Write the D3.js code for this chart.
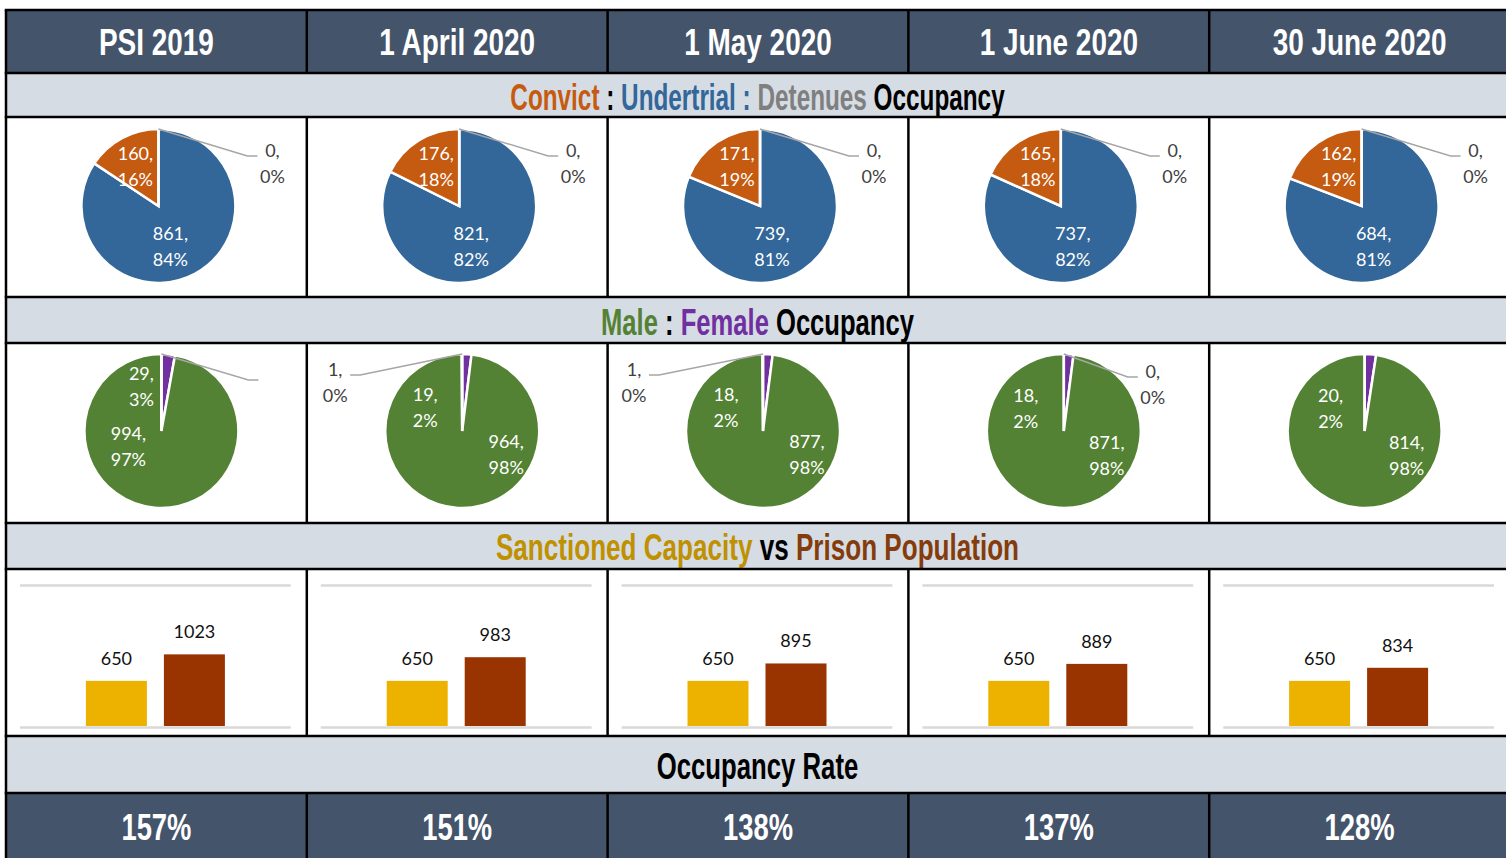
<!DOCTYPE html>
<html>
<head>
<meta charset="utf-8">
<script src="https://cdn.jsdelivr.net/npm/d3@7"></script>
<style>
  body { margin: 0; background: #fff; }
  svg { display: block; }
  text { white-space: pre; }
</style>
</head>
<body>
<svg id="chart" width="1506" height="858"></svg>
<script>
// ---- data -------------------------------------------------------------
const periods = ["PSI 2019", "1 April 2020", "1 May 2020", "1 June 2020", "30 June 2020"];

// Convict : Undertrial : Detenues
const convicts    = [160, 176, 171, 165, 162];
const undertrials = [861, 821, 739, 737, 684];
const detenues    = [0, 0, 0, 0, 0];

// Male : Female (plus other, where reported)
const females = [29, 19, 18, 18, 20];
const males   = [994, 964, 877, 871, 814];
const others  = [0, 1, 1, 0, null];

// Sanctioned capacity vs prison population
const capacity   = [650, 650, 650, 650, 650];
const population = [1023, 983, 895, 889, 834];
const barSeries  = ["Sanctioned Capacity", "Prison Population"];
const barTicks   = [0, 2000];

// ---- styling / layout ---------------------------------------------------
const C = {
  dark: "#44546A", light: "#D6DCE4", border: "#000",
  convict: "#C55A11", undertrial: "#336699", detenue: "#7F7F7F",
  male: "#548235", female: "#7030A0", other: "#A5A5A5",
  capacity: "#EDB200", population: "#993300",
  capTitle: "#BF9000", popTitle: "#843C0C",
  leader: "#A6A6A6", outLabel: "#404040", grid: "#D9D9D9"
};
const HEAD_FONT = "'Liberation Sans', Arial, sans-serif";
const LABEL_FONT = "Lato, 'Open Sans', sans-serif";

const svg = d3.select("#chart");
const X0 = 6, X1 = 1510;
const col = d3.scaleLinear().domain([0, periods.length]).range([X0, X1]);
const colMid = i => (col(i) + col(i + 1)) / 2;
const midX = (X0 + X1) / 2 - 0.5;

const rows = {
  header:    [10, 73],
  convTitle: [73, 117],
  convPies:  [117, 297],
  sexTitle:  [297, 343],
  sexPies:   [343, 523],
  capTitle:  [523, 569],
  capBars:   [569, 736],
  rateTitle: [736, 793],
  rate:      [793, 862]
};

// backgrounds
const fills = {
  header: C.dark, convTitle: C.light, convPies: "#fff", sexTitle: C.light,
  sexPies: "#fff", capTitle: C.light, capBars: "#fff", rateTitle: C.light, rate: C.dark
};
Object.entries(rows).forEach(([k, [y0, y1]]) => {
  svg.append("rect").attr("x", X0).attr("y", y0).attr("width", X1 - X0).attr("height", y1 - y0)
    .attr("fill", fills[k]);
});

// ---- helper: condensed bold heading text -------------------------------
function headText(x, baseline, parts, size, sx) {
  const t = svg.append("text")
    .attr("transform", `translate(${x},${baseline}) scale(${sx},1)`)
    .attr("text-anchor", "middle")
    .attr("font-family", HEAD_FONT)
    .attr("font-weight", "bold")
    .attr("font-size", size);
  parts.forEach(([s, c]) => t.append("tspan").attr("fill", c).text(s));
  return t;
}

// two-line data label centred on (x, y)
function dataLabel(g, x, y, lines, color) {
  const t = g.append("text")
    .attr("text-anchor", "middle")
    .attr("font-family", LABEL_FONT)
    .attr("font-size", 18)
    .attr("fill", color);
  lines.forEach((s, k) => {
    t.append("tspan").attr("x", x).attr("y", y + (k - (lines.length - 1) / 2) * 26 + 6.5).text(s);
  });
}

const pct = d3.format(".0%");

// ---- header row --------------------------------------------------------
periods.forEach((p, i) => {
  headText(colMid(i), rows.header[0] + 45, [[p, "#fff"]], 37, 0.755);
});

// ---- section titles ----------------------------------------------------
headText(midX, rows.convTitle[0] + 37, [
  ["Convict", C.convict], [" : ", "#000"], ["Undertrial :", C.undertrial],
  [" Detenues", C.detenue], [" Occupancy", "#000"]
], 37, 0.657);
headText(midX, rows.sexTitle[0] + 38, [
  ["Male", C.male], [" : ", "#000"], ["Female", C.female], [" Occupancy", "#000"]
], 37, 0.692);
headText(midX, rows.capTitle[0] + 37, [
  ["Sanctioned Capacity", C.capTitle], [" vs ", "#000"], ["Prison Population", C.popTitle]
], 37, 0.705);
headText(midX, rows.rateTitle[0] + 43, [["Occupancy Rate", "#000"]], 37, 0.695);

// ---- pies --------------------------------------------------------------
const R = 77;
const pie = d3.pie().sort(null).value(d => d.value || 0);
const arc = d3.arc().innerRadius(0).outerRadius(R);

function drawPie(cx, cy, slices) {
  const g = svg.append("g").attr("transform", `translate(${cx},${cy})`);
  const arcs = pie(slices);
  g.selectAll("path").data(arcs).join("path")
    .attr("d", arc)
    .attr("fill", d => d.data.color)
    .attr("stroke", "#fff")
    .attr("stroke-width", 2.5)
    .attr("stroke-linejoin", "miter");
  return { g, arcs };
}

// leader line from the top of the pie to an outside label
function leaderLabel(g, elbowDx, elbowDy, lines) {
  const side = Math.sign(elbowDx);
  const endX = elbowDx + side * 10;
  g.append("polyline")
    .attr("points", `0,${-R} ${elbowDx},${elbowDy} ${endX},${elbowDy}`)
    .attr("fill", "none").attr("stroke", C.leader).attr("stroke-width", 1.5);
  if (lines) dataLabel(g, endX + side * 15, elbowDy + 7, lines, C.outLabel);
}

// Convict : Undertrial : Detenues
periods.forEach((p, i) => {
  const total = convicts[i] + undertrials[i] + detenues[i];
  const { g } = drawPie(colMid(i) + 2, rows.convPies[0] + 89, [
    { key: "Undertrial", value: undertrials[i], color: C.undertrial },
    { key: "Convict", value: convicts[i], color: C.convict },
    { key: "Detenues", value: detenues[i], color: C.detenue }
  ]);
  dataLabel(g, 12, 40, [undertrials[i] + ",", pct(undertrials[i] / total)], "#fff");
  dataLabel(g, -23, -40, [convicts[i] + ",", pct(convicts[i] / total)], "#fff");
  leaderLabel(g, 89, -50, [detenues[i] + ",", pct(detenues[i] / total)]);
});

// Male : Female
const sexLabelPos = [
  { female: [-20, -45], male: [-33, 15], other: [87, -51], showOther: false },
  { female: [-37, -24], male: [44, 23], other: [-102, -56], showOther: true },
  { female: [-37, -24], male: [44, 23], other: [-104, -56], showOther: true },
  { female: [-38, -23], male: [43, 24], other: [64, -54], showOther: true },
  { female: [-34, -23], male: [42, 24], other: null, showOther: false }
];
periods.forEach((p, i) => {
  const total = males[i] + females[i] + (others[i] || 0);
  const { g } = drawPie(colMid(i) + 5, rows.sexPies[0] + 88, [
    { key: "Female", value: females[i], color: C.female },
    { key: "Male", value: males[i], color: C.male },
    { key: "Other", value: others[i], color: C.other }
  ]);
  const L = sexLabelPos[i];
  dataLabel(g, L.female[0], L.female[1], [females[i] + ",", pct(females[i] / total)], "#fff");
  dataLabel(g, L.male[0], L.male[1], [males[i] + ",", pct(males[i] / total)], "#fff");
  if (others[i] !== null && L.other) {
    leaderLabel(g, L.other[0], L.other[1],
      L.showOther ? [others[i] + ",", pct(others[i] / total)] : null);
  }
});

// ---- capacity vs population bars ---------------------------------------
const barTop = rows.capBars[0] + 16, barBase = rows.capBars[0] + 158;
const y = d3.scaleLinear().domain([barTicks[0], barTicks[barTicks.length - 1]]).range([barBase, barTop]);

periods.forEach((p, i) => {
  const left = col(i) + 14, right = col(i + 1) - 16;
  const mid = (left + right) / 2;
  const g = svg.append("g");

  // gridlines
  g.append("g")
    .attr("transform", `translate(${left},0)`)
    .call(d3.axisLeft(y).tickValues(barTicks).tickSize(-(right - left)).tickFormat(""))
    .call(a => a.select(".domain").remove())
    .call(a => a.selectAll(".tick line").attr("stroke", C.grid).attr("stroke-width", 2.5));

  const x = d3.scaleBand().domain(barSeries).range([mid - 69.5, mid + 69.5]).paddingInner(0.218);
  const vals = [
    { s: barSeries[0], v: capacity[i], c: C.capacity },
    { s: barSeries[1], v: population[i], c: C.population }
  ];
  g.selectAll("rect").data(vals).join("rect")
    .attr("x", d => x(d.s)).attr("width", x.bandwidth())
    .attr("y", d => y(d.v)).attr("height", d => y(0) - y(d.v) - 1)
    .attr("fill", d => d.c);
  g.selectAll("text.v").data(vals).join("text")
    .attr("class", "v")
    .attr("x", d => x(d.s) + x.bandwidth() / 2)
    .attr("y", d => y(d.v) - 16)
    .attr("text-anchor", "middle")
    .attr("font-family", LABEL_FONT).attr("font-size", 18).attr("fill", "#111")
    .text(d => d.v);
});

// ---- occupancy rate row --------------------------------------------------
periods.forEach((p, i) => {
  headText(colMid(i), rows.rate[0] + 47, [[pct(population[i] / capacity[i]), "#fff"]], 37, 0.74);
});

// ---- grid borders --------------------------------------------------------
const bw = 2.5;
const hLines = [rows.header[0], rows.header[1], rows.convTitle[1], rows.convPies[1], rows.sexTitle[1],
  rows.sexPies[1], rows.capTitle[1], rows.capBars[1], rows.rateTitle[1]];
hLines.forEach(yy => {
  svg.append("line").attr("x1", X0 - bw / 2).attr("x2", X1).attr("y1", yy).attr("y2", yy)
    .attr("stroke", C.border).attr("stroke-width", bw);
});
const dividedRows = [rows.header, rows.convPies, rows.sexPies, rows.capBars, rows.rate];
d3.range(1, periods.length).forEach(i => {
  dividedRows.forEach(([y0, y1]) => {
    svg.append("line").attr("x1", col(i)).attr("x2", col(i)).attr("y1", y0).attr("y2", y1)
      .attr("stroke", C.border).attr("stroke-width", bw);
  });
});
svg.append("line").attr("x1", X0).attr("x2", X0).attr("y1", rows.header[0]).attr("y2", 858)
  .attr("stroke", C.border).attr("stroke-width", bw);
</script>
</body>
</html>
